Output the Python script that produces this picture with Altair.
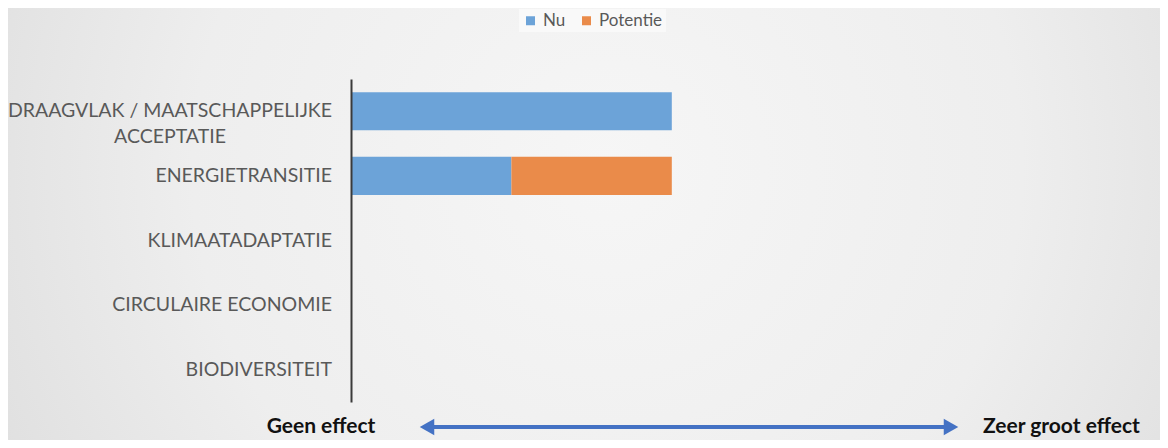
import altair as alt
import pandas as pd

categories = ["DRAAGVLAK / MAATSCHAPPELIJKE\nACCEPTATIE", "ENERGIETRANSITIE",
              "KLIMAATADAPTATIE", "CIRCULAIRE ECONOMIE", "BIODIVERSITEIT"]
nu = [2, 1, 0, 0, 0]
potentie = [0, 1, 0, 0, 0]
series = ["Nu", "Potentie"]
colors = ["#6CA3D8", "#EA8B4A"]

rows = []
for c, a, b in zip(categories, nu, potentie):
    rows.append({"cat": c, "serie": "Nu", "val": a, "ord": 0})
    rows.append({"cat": c, "serie": "Potentie", "val": b, "ord": 1})
df = pd.DataFrame(rows)
labels_df = pd.DataFrame({"cat": categories, "first": [i == 0 for i in range(len(categories))]})

W, H = 802, 323
FONT = "Lato"

yscale = alt.Scale(domain=categories, paddingInner=0.41, paddingOuter=0.205)

bg = alt.Chart(pd.DataFrame({"a": [0]})).mark_rect(
    color=alt.RadialGradient(
        gradient="radial", x1=0.52, y1=0.45, x2=0.52, y2=0.45, r1=0, r2=0.72,
        stops=[alt.GradientStop(offset=0, color="#f6f6f6"),
               alt.GradientStop(offset=0.5, color="#eeeeee"),
               alt.GradientStop(offset=1, color="#d7d7d7")]
    )
).encode(x=alt.value(-343), x2=alt.value(W + 7), y=alt.value(-71), y2=alt.value(H + 38))

noaxis = alt.Axis(labels=False, ticks=False, title=None, domainColor="#3a3a3a",
                  domainWidth=2, grid=False, zindex=1)

bars = alt.Chart(df).mark_bar().encode(
    y=alt.Y("cat:N", scale=yscale, sort=categories, axis=noaxis),
    x=alt.X("val:Q", stack="zero", scale=alt.Scale(domain=[0, 5], nice=False),
            axis=None),
    color=alt.Color("serie:N", scale=alt.Scale(domain=series, range=colors),
                    legend=alt.Legend(title=None, orient="none", legendX=168, legendY=-70,
                                      direction="horizontal", symbolType="square",
                                      symbolSize=81, labelFontSize=17, labelColor="#595959",
                                      labelFont=FONT, columnPadding=12, padding=3,
                                      fillColor="#f9f9f9", symbolStrokeWidth=0,
                                      labelOffset=4)),
    order=alt.Order("ord:Q"),
)

lab_rest = alt.Chart(labels_df).transform_filter("!datum.first").mark_text(
    align="right", baseline="middle", fontSize=19.5, font=FONT, color="#595959"
).encode(y=alt.Y("cat:N", scale=yscale, sort=categories, axis=noaxis),
         x=alt.value(-19), text="cat:N")

lab_first = alt.Chart(labels_df).transform_filter("datum.first").mark_text(
    align="center", baseline="middle", fontSize=19.5, font=FONT, color="#595959",
    lineBreak="\n", lineHeight=26
).encode(y=alt.Y("cat:N", scale=yscale, sort=categories, axis=noaxis),
         x=alt.value(-181), text="cat:N")

AY = 348
geen = alt.Chart(pd.DataFrame({"t": ["Geen effect"]})).mark_text(
    align="center", baseline="middle", fontSize=21, fontWeight="bold", font=FONT, color="#111111"
).encode(text="t:N", x=alt.value(-30), y=alt.value(AY))
zeer = alt.Chart(pd.DataFrame({"t": ["Zeer groot effect"]})).mark_text(
    align="left", baseline="middle", fontSize=21, fontWeight="bold", font=FONT, color="#111111"
).encode(text="t:N", x=alt.value(632), y=alt.value(AY))

shaft = alt.Chart(pd.DataFrame({"a": [0]})).mark_rule(color="#4472C4", strokeWidth=4).encode(
    x=alt.value(80), x2=alt.value(596), y=alt.value(AY))
head_l = alt.Chart(pd.DataFrame({"a": [0]})).mark_point(
    shape="triangle-left", filled=True, color="#4472C4", size=280, opacity=1
).encode(x=alt.value(76), y=alt.value(AY))
head_r = alt.Chart(pd.DataFrame({"a": [0]})).mark_point(
    shape="triangle-right", filled=True, color="#4472C4", size=280, opacity=1
).encode(x=alt.value(600), y=alt.value(AY))

chart = alt.layer(bg, bars, lab_rest, lab_first, shaft, head_l, head_r, geen, zeer).properties(
    width=W, height=H,
    autosize=alt.AutoSizeParams(type="none"),
    padding={"left": 343, "top": 71, "right": 7, "bottom": 38},
    background="#dadada",
).configure_view(stroke=None)

chart.save("out.html", embed_options={"renderer": "svg", "actions": False})
